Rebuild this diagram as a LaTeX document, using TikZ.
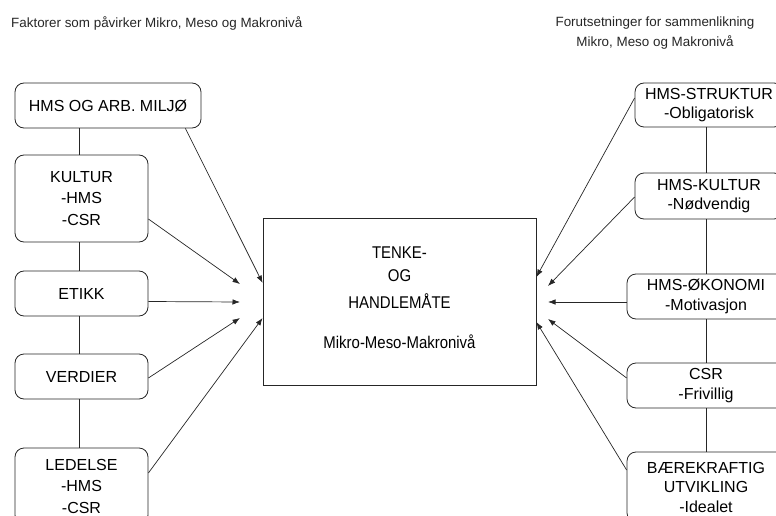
\documentclass[tikz,border=0pt]{standalone}
\usepackage{fontspec}
\setmainfont{Liberation Sans}
\newfontfamily\narrowfont{Liberation Sans}[FakeStretch=0.88]
\usetikzlibrary{arrows.meta,calc}
\begin{document}
\begin{tikzpicture}[x=1pt,y=-1pt,
  box/.style={draw=black!85, line width=0.8pt, rounded corners=9pt, align=center,
    font=\fontsize{16}{21.5}\selectfont, inner sep=0pt},
  rbox/.style={box, font=\fontsize{16}{19.5}\selectfont},
  link/.style={draw=black!85, line width=0.7pt},
  arr/.style={link, -{Latex[length=7.5pt,width=5.5pt]}},
  title/.style={font=\fontsize{13.4}{20}\selectfont, text=black!85, inner sep=0pt}
]
\useasboundingbox (0,0) rectangle (776,516);
\begin{scope}
\clip (0,0) rectangle (776,516);

% headings
\node[title, anchor=west] (tleft) at (11,23) {Faktorer som påvirker Mikro, Meso og Makronivå};
\node[title, align=center] (tright) at (655,33) {Forutsetninger for sammenlikning\\Mikro, Meso og Makronivå};

% central box
\node[draw=black!85, line width=0.8pt, minimum width=273, minimum height=167, inner sep=0pt]
  (cbox) at (399.5,301.5) {};
\node[align=center, inner sep=0pt, font=\narrowfont\fontsize{17}{22}\selectfont] (ctext) at (399.5,298)
  {TENKE-\\[1pt] OG\\[5pt] HANDLEMÅTE\\[18pt] Mikro-Meso-Makronivå};

% left column
\node[box, minimum width=186, minimum height=45] (hms) at (108,105.5) {HMS OG ARB. MILJØ};
\node[box, minimum width=133, minimum height=87] (kultur) at (81.5,198.5) {KULTUR\\-HMS\\-CSR};
\node[box, minimum width=133, minimum height=45] (etikk) at (81.5,293.5) {ETIKK};
\node[box, minimum width=133, minimum height=45] (verdier) at (81.5,376.5) {VERDIER};
\node[box, minimum width=133, minimum height=76] (ledelse) at (81.5,486) {LEDELSE\\-HMS\\-CSR};

% right column
\node[rbox, minimum width=148, minimum height=44] (struktur) at (709,105) {HMS-STRUKTUR\\-Obligatorisk};
\node[rbox, minimum width=148, minimum height=46] (hkultur) at (709,196) {HMS-KULTUR\\-Nødvendig};
\node[rbox, minimum width=158, minimum height=45] (okonomi) at (706,296.5) {HMS-ØKONOMI\\-Motivasjon};
\node[rbox, minimum width=158, minimum height=45] (csr) at (706,385.5) {CSR\\-Frivillig};
\node[rbox, minimum width=158, minimum height=70] (baer) at (706,487) {BÆREKRAFTIG\\UTVIKLING\\-Idealet};

% spines
\coordinate (spineL) at (79,0);
\coordinate (spineR) at (706,0);
\draw[link] (hms.south -| spineL) -- (kultur.north -| spineL);
\draw[link] (kultur.south -| spineL) -- (etikk.north -| spineL);
\draw[link] (etikk.south -| spineL) -- (verdier.north -| spineL);
\draw[link] (verdier.south -| spineL) -- (ledelse.north -| spineL);
\draw[link] (struktur.south -| spineR) -- (hkultur.north -| spineR);
\draw[link] (hkultur.south -| spineR) -- (okonomi.north -| spineR);
\draw[link] (okonomi.south -| spineR) -- (csr.north -| spineR);
\draw[link] (csr.south -| spineR) -- (baer.north -| spineR);

% free arrow ends
\coordinate (tL2) at (240,284);
\coordinate (tL3) at (240,302);
\coordinate (tL4) at (240,318);
\coordinate (tR2) at (548,286);
\coordinate (tR3) at (548,302);
\coordinate (tR4) at (548,319);

% arrows from the left
\draw[arr] ($(hms.south east)+(-16,0)$) -- ($(cbox.west)+(0,-18.5)$);
\draw[arr] ($(kultur.east)+(0,20.5)$) -- (tL2);
\draw[arr] ($(etikk.east)+(0,8)$) -- (tL3);
\draw[arr] ($(verdier.east)+(0,1.5)$) -- (tL4);
\draw[arr] ($(ledelse.east)+(0,-13)$) -- ($(cbox.west)+(0,16.5)$);

% arrows from the right
\draw[arr] ($(struktur.west)+(0,-7)$) -- ($(cbox.east)+(0,-24.5)$);
\draw[arr] ($(hkultur.west)+(0,1)$) -- (tR2);
\draw[arr] ($(okonomi.west)+(0,5.5)$) -- (tR3);
\draw[arr] ($(csr.west)+(0,-7.5)$) -- (tR4);
\draw[arr] ($(baer.west)+(0,-17)$) -- ($(cbox.east)+(0,20.5)$);
\end{scope}
\end{tikzpicture}
\end{document}
